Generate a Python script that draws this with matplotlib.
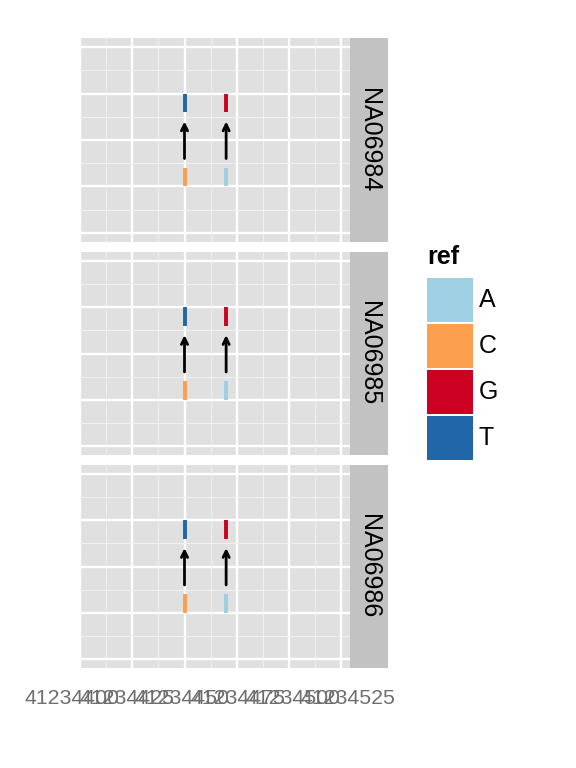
import matplotlib
matplotlib.use('Agg')
import matplotlib.pyplot as plt
from matplotlib.ticker import MultipleLocator

samples = ['NA06984', 'NA06985', 'NA06986']
var_pos = [41234450, 41234470]
ref_base = ['C', 'A']
alt_base = ['T', 'G']
bases = ['A', 'C', 'G', 'T']
base_colors = ['#9ECFE2', '#FCA050', '#CC0020', '#2266AA']
x_breaks = [41234400, 41234425, 41234450, 41234475, 41234500, 41234525]

plt.rcParams['font.family'] = ['Liberation Sans', 'DejaVu Sans']

W, H = 576, 768
fig = plt.figure(figsize=(W / 100, H / 100), dpi=100)


def box(x0, y0, x1, y1):
    # pixel box (from top-left) -> figure fraction
    return [x0 / W, 1 - y1 / H, (x1 - x0) / W, (y1 - y0) / H]


col = dict(zip(bases, base_colors))
panel_rows = [(38, 242), (252, 455), (465, 668)]

for s, (top, bot) in zip(samples, panel_rows):
    ax = fig.add_axes(box(80, top, 350, bot))
    ax.set_facecolor('#E0E0E0')
    ax.set_xlim(41234399.8, 41234529.5)
    ax.set_ylim(-0.2, 4.2)
    ax.xaxis.set_major_locator(MultipleLocator(25))
    ax.xaxis.set_minor_locator(MultipleLocator(12.5))
    ax.yaxis.set_major_locator(MultipleLocator(1))
    ax.yaxis.set_minor_locator(MultipleLocator(0.5))
    ax.grid(which='major', color='white', lw=1.7)
    ax.grid(which='minor', color='#F0F0F0', lw=0.8)
    ax.set_axisbelow(True)
    ax.tick_params(which='both', length=0, labelbottom=False, labelleft=False)
    for sp in ax.spines.values():
        sp.set_visible(False)

    ax.vlines(var_pos, 1.0, 1.4, colors=[col[b] for b in ref_base], lw=2.8)
    ax.vlines(var_pos, 2.6, 3.0, colors=[col[b] for b in alt_base], lw=2.8)
    for p in var_pos:
        ax.annotate('', xy=(p, 2.4), xytext=(p, 1.6),
                    arrowprops=dict(arrowstyle='->,head_length=0.45,head_width=0.22',
                                    lw=2.0, color='black', shrinkA=0, shrinkB=0))

    sax = fig.add_axes(box(350, top, 388, bot))
    sax.set_facecolor('#C2C2C2')
    sax.set_xticks([])
    sax.set_yticks([])
    for sp in sax.spines.values():
        sp.set_visible(False)
    sax.text(0.5, 0.5, s, rotation=270, ha='center', va='center',
             fontsize=18, transform=sax.transAxes)

# x labels (as laid out in the reference, slightly wider than the panel grid)
lab = fig.add_axes(box(72, 667, 348, 668))
lab.set_facecolor('none')
lab.set_xlim(x_breaks[0], x_breaks[-1])
lab.set_xticks(x_breaks)
lab.set_xticklabels([str(v) for v in x_breaks])
lab.set_yticks([])
lab.tick_params(axis='x', length=0, pad=15, labelsize=15.3, labelcolor='#6E6E6E')
for sp in lab.spines.values():
    sp.set_visible(False)

# legend
lax = fig.add_axes(box(427, 277, 473, 461))
lax.barh(range(len(bases)), 1, height=0.96, color=base_colors)
lax.set_xlim(0, 1)
lax.set_ylim(len(bases) - 0.5, -0.5)
lax.axis('off')
for i, b in enumerate(bases):
    lax.text(1.12, i, b, va='center', ha='left', fontsize=18, clip_on=False)
lax.annotate('ref', xy=(0, 1), xycoords='axes fraction', xytext=(0, 9),
             textcoords='offset points', va='baseline', ha='left',
             fontsize=18, fontweight='bold')

fig.savefig('out.png', dpi=100)
